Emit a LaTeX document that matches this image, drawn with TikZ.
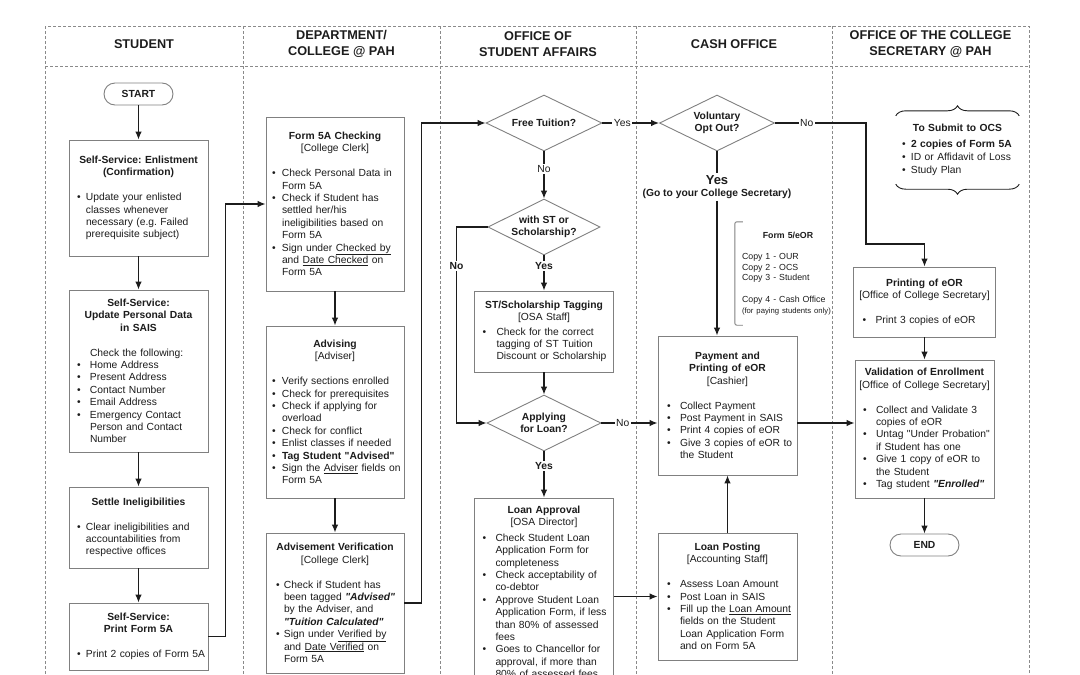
\documentclass[tikz,border=0pt]{standalone}
\usepackage{fontspec}
\setmainfont{Liberation Sans}[Ligatures=TeXOff]
\usepackage{tikz}
\usetikzlibrary{shapes.geometric, arrows.meta, decorations.pathreplacing, positioning, calc}

\definecolor{boxgray}{HTML}{808080}
\definecolor{lanegray}{HTML}{8A8A8A}
\definecolor{inkblack}{HTML}{1C1C1C}

\frenchspacing
\newcommand{\bodyfont}{\fontsize{10.3}{12.4}\selectfont}
\newlength{\bulpre}
\newlength{\bulind}
\newcommand{\setbul}[2]{\setlength{\bulpre}{#1}\setlength{\bulind}{#2}}
\newcommand{\bul}[1]{\par\noindent\hangindent=\bulind\hangafter=1\makebox[\bulind][l]{\hspace*{\bulpre}\textbullet}{\let\\\newline #1}\par}

\tikzset{
  lane/.style={draw=lanegray, line width=0.8pt, dash pattern=on 3pt off 2pt},
  lanehead/.style={font=\fontsize{12.7}{16}\selectfont\bfseries, align=center, text=inkblack},
  procbox/.style={draw=boxgray, line width=0.9pt, fill=white, inner xsep=0pt, inner ysep=2pt, align=left, font=\bodyfont, text=inkblack},
  wd/.style={text width=#1, minimum width=#1},
  decision/.style={diamond, aspect=2, draw=boxgray, line width=0.9pt, fill=white, inner sep=0pt, align=center, font=\bodyfont\bfseries, text=inkblack, minimum height=56pt},
  terminal/.style={draw=boxgray, line width=0.9pt, rounded corners=11pt, minimum width=69pt, minimum height=22pt, inner sep=0pt, font=\bodyfont\bfseries, text=inkblack},
  flow/.style={draw=inkblack, line width=1.1pt, -{Latex[length=8pt,width=6.5pt]}},
  plain/.style={draw=inkblack, line width=1.1pt},
  lbl/.style={fill=white, inner sep=1.5pt, font=\bodyfont, text=inkblack},
  blbl/.style={lbl, font=\bodyfont\bfseries},
}

\begin{document}
\begin{tikzpicture}[x=1pt, y=-1pt]
\useasboundingbox (0,0) rectangle (1080,675);

% swim lanes
\draw[lane] (45,26) rectangle (1029,700);
\draw[lane] (45,66) -- (1029,66);
\foreach \x in {243,440,636,832}{\draw[lane] (\x,26) -- (\x,700);}

\node[lanehead] (hstudent) at (144,44) {STUDENT};
\node[lanehead] (hdept) at (341.5,44) {DEPARTMENT/\\COLLEGE @ PAH};
\node[lanehead] (hosa) at (538,44) {OFFICE OF\\STUDENT AFFAIRS};
\node[lanehead] (hcash) at (734,44) {CASH OFFICE};
\node[lanehead] (hocs) at (930.5,44) {OFFICE OF THE COLLEGE\\SECRETARY @ PAH};

% student
\node[terminal] (start) at (138.5,94) {START};
\node[procbox, wd=139pt, minimum height=116pt] (enlist) at (138.5,198) {\setbul{8pt}{17pt}%
  {\centering\textbf{Self-Service: Enlistment\\(Confirmation)}\par}\vspace{12.4pt}%
  \bul{Update your enlisted\\classes whenever\\necessary (e.g. Failed\\prerequisite subject)}};
\node[procbox, wd=139pt, minimum height=162pt] (persdata) at (138.5,371) {\setbul{8pt}{21pt}%
  {\centering\textbf{Self-Service:\\Update Personal Data\\in SAIS}\par}\vspace{12.4pt}%
  \noindent\hspace*{\bulind}Check the following:%
  \bul{Home Address}\bul{Present Address}\bul{Contact Number}\bul{Email Address}%
  \bul{Emergency Contact\\Person and Contact\\Number}};
\node[procbox, wd=139pt, minimum height=81pt] (settle) at (138.5,527.5) {\setbul{8pt}{17pt}%
  {\centering\textbf{Settle Ineligibilities}\par}\vspace{12.4pt}%
  \bul{Clear ineligibilities and\\accountabilities from\\respective offices}};
\node[procbox, wd=139pt, minimum height=67pt] (print5a) at (138.5,636.5) {\setbul{8pt}{17pt}%
  {\centering\textbf{Self-Service:\\Print Form 5A}\par}\vspace{12.4pt}%
  \bul{Print 2 copies of Form 5A}};

% department / college
\node[procbox, wd=138pt, minimum height=174pt] (check5a) at (335,204) {\setbul{6pt}{16pt}%
  {\centering\textbf{Form 5A Checking}\\{}[College Clerk]\par}\vspace{12.4pt}%
  \bul{Check Personal Data in\\Form 5A}%
  \bul{Check if Student has\\settled her/his\\ineligibilities based on\\Form 5A}%
  \bul{Sign under \underline{Checked by}\\and \underline{Date Checked} on\\Form 5A}};
\node[procbox, wd=138pt, minimum height=172pt] (advising) at (335,412) {\setbul{6pt}{16pt}%
  {\centering\textbf{Advising}\\{}[Adviser]\par}\vspace{12.4pt}%
  \bul{Verify sections enrolled}\bul{Check for prerequisites}%
  \bul{Check if applying for\\overload}\bul{Check for conflict}\bul{Enlist classes if needed}%
  \bul{\textbf{Tag Student "Advised"}}%
  \bul{Sign the \underline{Adviser} fields on\\Form 5A}};
\node[procbox, wd=138pt, minimum height=140pt] (advverif) at (335,603) {\setbul{10pt}{18pt}%
  {\centering\textbf{Advisement Verification}\\{}[College Clerk]\par}\vspace{12.4pt}%
  \bul{Check if Student has\\been tagged \textbf{\textit{"Advised"}}\\by the Adviser, and\\\textbf{\textit{"Tuition Calculated"}}}%
  \bul{Sign under \underline{Verified by}\\and \underline{Date Verified} on\\Form 5A}};

% student affairs
\node[decision, minimum width=116pt] (freetu) at (544,123) {Free Tuition?};
\node[decision, minimum width=112pt] (withst) at (544,227) {with ST or\\Scholarship?};
\node[procbox, wd=139pt, minimum height=81pt] (sttag) at (544,331.5) {\setbul{8pt}{22pt}%
  {\centering\textbf{ST/Scholarship Tagging}\\{}[OSA Staff]\par}\vspace{2pt}%
  \bul{Check for the correct\\tagging of ST Tuition\\Discount or Scholarship}};
\node[decision, minimum width=114pt] (applying) at (544,423) {Applying\\for Loan?};
\node[procbox, wd=139pt, minimum height=188pt] (loanappr) at (544,592) {\setbul{8pt}{21pt}%
  {\centering\textbf{Loan Approval}\\{}[OSA Director]\par}\vspace{3pt}%
  \bul{Check Student Loan\\Application Form for\\completeness}%
  \bul{Check acceptability of\\co-debtor}%
  \bul{Approve Student Loan\\Application Form, if less\\than 80\% of assessed\\fees}%
  \bul{Goes to Chancellor for\\approval, if more than\\80\% of assessed fees}};

% cash office
\node[decision, minimum width=115pt] (volopt) at (717,123) {Voluntary\\Opt Out?};
\node[align=center, font=\bodyfont\bfseries, text=inkblack, inner sep=2pt] (yesgo) at (717,187)
  {{\fontsize{13}{15}\selectfont Yes}\\(Go to your College Secretary)};
\node[align=left, text width=92pt, inner xsep=7pt, inner ysep=0pt, minimum height=103pt,
  font=\fontsize{8.8}{10.8}\selectfont, text=inkblack] (form5) at (788,273.5)
  {{\centering\textbf{Form 5/eOR}\par}\vspace{10pt}%
  \noindent Copy 1 - OUR\\Copy 2 - OCS\\Copy 3 - Student\\[10.8pt]Copy 4 - Cash Office\\%
  {\fontsize{7.7}{9}\selectfont(for paying students only)}};
\draw[draw=boxgray, line width=0.9pt, rounded corners=2pt] ([xshift=8pt]form5.north west) -- (form5.north west)
  -- (form5.south west) -- ([xshift=8pt]form5.south west);
\node[procbox, wd=139pt, minimum height=139pt] (payment) at (727.5,405.5) {\setbul{9pt}{22pt}%
  {\centering\textbf{Payment and\\Printing of eOR}\\{}[Cashier]\par}\vspace{12.4pt}%
  \bul{Collect Payment}\bul{Post Payment in SAIS}\bul{Print 4 copies of eOR}%
  \bul{Give 3 copies of eOR to\\the Student}};
\node[procbox, wd=139pt, minimum height=127pt] (loanpost) at (727.5,596.5) {\setbul{9pt}{22pt}%
  {\centering\textbf{Loan Posting}\\{}[Accounting Staff]\par}\vspace{12.4pt}%
  \bul{Assess Loan Amount}\bul{Post Loan in SAIS}%
  \bul{Fill up the \underline{Loan Amount}\\fields on the Student\\Loan Application Form\\and on Form 5A}};

% college secretary
\node[align=left, text width=111pt, inner xsep=6pt, inner ysep=0pt, minimum height=68pt,
  font=\fontsize{10.3}{13}\selectfont, text=inkblack] (ocsnote) at (957.5,150) {\setbul{0pt}{9pt}%
  {\centering\textbf{To Submit to OCS}\par}\vspace{3pt}%
  \bul{\textbf{2 copies of Form 5A}}\bul{ID or Affidavit of Loss}\bul{Study Plan}};
\draw[decorate, decoration={brace, amplitude=10pt}, draw=inkblack, line width=0.9pt]
  (ocsnote.north west) -- (ocsnote.north east);
\draw[decorate, decoration={brace, amplitude=10pt}, draw=inkblack, line width=0.9pt]
  (ocsnote.south east) -- (ocsnote.south west);
\node[procbox, wd=142pt, minimum height=70pt] (printeor) at (924.5,302) {\setbul{9pt}{22pt}%
  {\centering\textbf{Printing of eOR}\\{}[Office of College Secretary]\par}\vspace{12.4pt}%
  \bul{Print 3 copies of eOR}};
\node[procbox, wd=139pt, minimum height=138pt] (validation) at (924.5,429) {\setbul{8pt}{21pt}%
  {\centering\textbf{Validation of Enrollment}\\{}[Office of College Secretary]\par}\vspace{12.4pt}%
  \bul{Collect and Validate 3\\copies of eOR}%
  \bul{Untag "Under Probation"\\if Student has one}%
  \bul{Give 1 copy of eOR to\\the Student}%
  \bul{Tag student \textbf{\textit{"Enrolled"}}}};
\node[terminal] (finish) at (924.5,545) {END};

% connectors
\draw[flow] (start) -- (enlist);
\draw[flow] (enlist) -- (persdata);
\draw[flow] (persdata) -- (settle);
\draw[flow] (settle) -- (print5a);
\draw[flow] (print5a.east) -- ++(17,0) |- (check5a.west);
\draw[flow] (check5a) -- (advising);
\draw[flow] (advising) -- (advverif);
\draw[flow] (advverif.east) -- ++(17,0) |- (freetu.west);
\draw[flow] (freetu.east) -- node[lbl, pos=0.35]{Yes} (volopt.west);
\draw[flow] (freetu.south) -- node[lbl, pos=0.38]{No} (withst.north);
\draw[flow] (withst.south) -- node[blbl, pos=0.3]{Yes} (sttag.north);
\draw[flow] (withst.west) -- ++(-31,0) coordinate (nobranch)
  -- node[blbl, pos=0.2]{No} (nobranch |- applying.west) -- (applying.west);
\draw[flow] (sttag) -- (applying);
\draw[flow] (applying.east) -- node[lbl, pos=0.38]{No} (applying.east -| payment.west);
\draw[flow] (applying.south) -- node[blbl, pos=0.32]{Yes} (loanappr.north);
\draw[flow] (loanappr.east |- loanpost.west) -- (loanpost.west);
\draw[flow] (loanpost) -- (payment);
\draw[plain] (volopt.south) -- (yesgo.north);
\draw[flow] (yesgo.south) -- (yesgo.south |- payment.north);
\coordinate (nobend) at (866,244);
\draw[flow] (volopt.east) -- node[lbl, pos=0.35]{No} (volopt.east -| nobend) -- (nobend) -| (printeor.north);
\draw[flow] (payment.east |- applying.east) -- (validation.west |- applying.east);
\draw[flow] (printeor) -- (validation);
\draw[flow] (validation) -- (finish);
\end{tikzpicture}
\end{document}
